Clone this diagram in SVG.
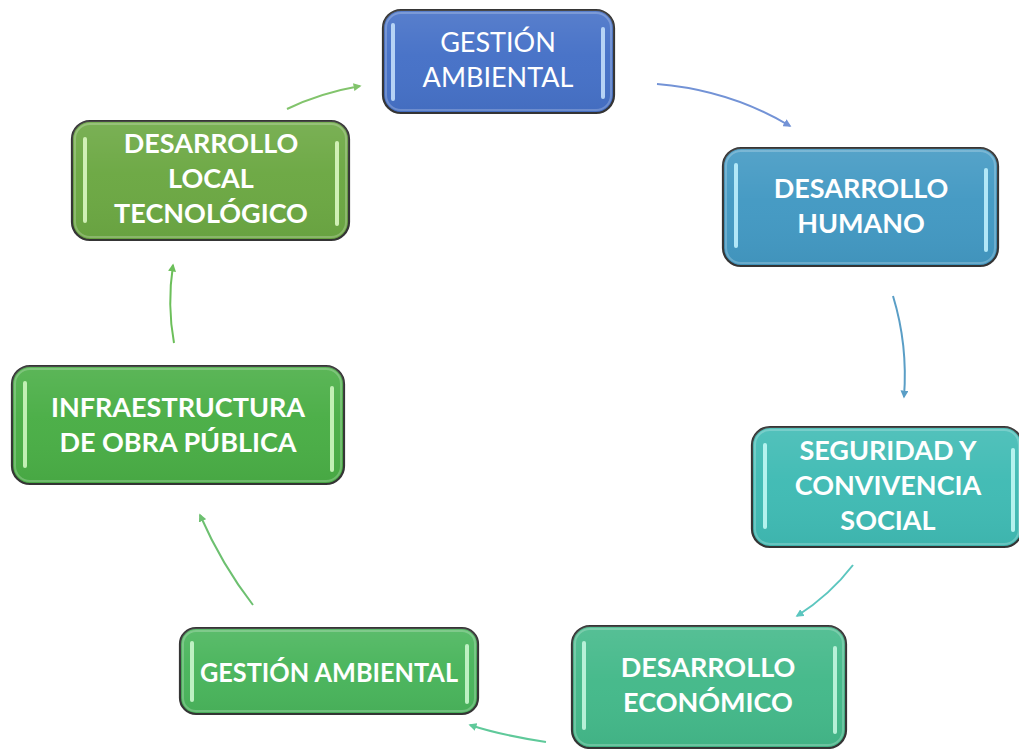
<svg xmlns="http://www.w3.org/2000/svg" width="1019" height="749" viewBox="0 0 1019 749">
<style>
.box{stroke:#353535;stroke-width:2.2}
.shine{stroke:none}
.inner{fill:none;stroke:#ffffff;stroke-opacity:0.22;stroke-width:2}
.bar{stroke-width:4;stroke-linecap:round;opacity:0.95}
.t{font-family:Lato,"Open Sans",sans-serif;font-size:27px;fill:#ffffff;text-anchor:middle}
.b{font-weight:bold}
.c{fill:none;stroke-width:2}
</style>
<defs>
<linearGradient id="sh" x1="0" y1="0" x2="0" y2="1">
<stop offset="0" stop-color="#ffffff" stop-opacity="0.10"/>
<stop offset="0.45" stop-color="#ffffff" stop-opacity="0.02"/>
<stop offset="1" stop-color="#000000" stop-opacity="0.04"/>
</linearGradient>
<marker id="m1" viewBox="0 0 10 10" refX="8" refY="5" markerWidth="4" markerHeight="4" orient="auto"><path d="M0,0 L10,5 L0,10 z" fill="#82c46c"/></marker>
<marker id="m2" viewBox="0 0 10 10" refX="8" refY="5" markerWidth="4" markerHeight="4" orient="auto"><path d="M0,0 L10,5 L0,10 z" fill="#7393d6"/></marker>
<marker id="m3" viewBox="0 0 10 10" refX="8" refY="5" markerWidth="4" markerHeight="4" orient="auto"><path d="M0,0 L10,5 L0,10 z" fill="#5a9ec6"/></marker>
<marker id="m4" viewBox="0 0 10 10" refX="8" refY="5" markerWidth="4" markerHeight="4" orient="auto"><path d="M0,0 L10,5 L0,10 z" fill="#5cc6bf"/></marker>
<marker id="m5" viewBox="0 0 10 10" refX="8" refY="5" markerWidth="4" markerHeight="4" orient="auto"><path d="M0,0 L10,5 L0,10 z" fill="#5fc99a"/></marker>
<marker id="m6" viewBox="0 0 10 10" refX="8" refY="5" markerWidth="4" markerHeight="4" orient="auto"><path d="M0,0 L10,5 L0,10 z" fill="#6dc070"/></marker>
<marker id="m7" viewBox="0 0 10 10" refX="8" refY="5" markerWidth="4" markerHeight="4" orient="auto"><path d="M0,0 L10,5 L0,10 z" fill="#6cbf5a"/></marker>
</defs>
<rect width="1019" height="749" fill="#ffffff"/>

<g id="connectors">
<path class="c" d="M287,109 Q320,93 360,86" stroke="#82c46c" marker-end="url(#m1)"/>
<path class="c" d="M657,84 Q730,90 790,126" stroke="#7393d6" marker-end="url(#m2)"/>
<path class="c" d="M893,296 Q908,345 904,397" stroke="#5a9ec6" marker-end="url(#m3)"/>
<path class="c" d="M853,565 Q830,595 797,616" stroke="#5cc6bf" marker-end="url(#m4)"/>
<path class="c" d="M546,742 Q500,735 470,725" stroke="#5fc99a" marker-end="url(#m5)"/>
<path class="c" d="M253,605 Q222,565 200,515" stroke="#6dc070" marker-end="url(#m6)"/>
<path class="c" d="M174,343 Q167,305 173,265" stroke="#6cbf5a" marker-end="url(#m7)"/>
</g>

<g id="n1">
<rect class="box" x="383" y="10" width="231" height="103" rx="18" fill="#4671c7"/>
<rect class="shine" x="383" y="10" width="231" height="103" rx="18" fill="url(#sh)"/>
<rect class="inner" x="386" y="13" width="225" height="97" rx="15"/>
<line class="bar" x1="393" y1="25" x2="393" y2="99" stroke="#bcd8f8"/>
<line class="bar" x1="603" y1="29" x2="603" y2="97" stroke="#bcd8f8"/>
<text class="t" x="498" y="52">GESTIÓN</text>
<text class="t" x="498" y="87">AMBIENTAL</text>
</g>

<g id="n2">
<rect class="box" x="723" y="148" width="275" height="118" rx="18" fill="#4399c3"/>
<rect class="shine" x="723" y="148" width="275" height="118" rx="18" fill="url(#sh)"/>
<rect class="inner" x="726" y="151" width="269" height="112" rx="15"/>
<line class="bar" x1="736" y1="165" x2="736" y2="246" stroke="#b8ecfb"/>
<line class="bar" x1="986" y1="170" x2="986" y2="250" stroke="#b8ecfb"/>
<text class="t b" x="861" y="198">DESARROLLO</text>
<text class="t b" x="861" y="233">HUMANO</text>
</g>

<g id="n3">
<rect class="box" x="752" y="427" width="270" height="120" rx="18" fill="#40bbb4"/>
<rect class="shine" x="752" y="427" width="270" height="120" rx="18" fill="url(#sh)"/>
<rect class="inner" x="755" y="430" width="264" height="114" rx="15"/>
<line class="bar" x1="765" y1="445" x2="765" y2="527" stroke="#bbf6f2"/>
<line class="bar" x1="1013" y1="450" x2="1013" y2="530" stroke="#bbf6f2"/>
<text class="t b" x="888" y="460">SEGURIDAD Y</text>
<text class="t b" x="888" y="495">CONVIVENCIA</text>
<text class="t b" x="888" y="530">SOCIAL</text>
</g>

<g id="n4">
<rect class="box" x="572" y="626" width="274" height="122" rx="18" fill="#44b98a"/>
<rect class="shine" x="572" y="626" width="274" height="122" rx="18" fill="url(#sh)"/>
<rect class="inner" x="575" y="629" width="268" height="116" rx="15"/>
<line class="bar" x1="584" y1="643" x2="584" y2="728" stroke="#bdf4dc"/>
<line class="bar" x1="835" y1="648" x2="835" y2="732" stroke="#bdf4dc"/>
<text class="t b" x="708" y="677">DESARROLLO</text>
<text class="t b" x="708" y="712">ECONÓMICO</text>
</g>

<g id="n5">
<rect class="box" x="180" y="628" width="298" height="86" rx="16" fill="#4ab55c"/>
<rect class="shine" x="180" y="628" width="298" height="86" rx="16" fill="url(#sh)"/>
<rect class="inner" x="183" y="631" width="292" height="80" rx="13"/>
<line class="bar" x1="192" y1="643" x2="192" y2="700" stroke="#c4f4c8"/>
<line class="bar" x1="467" y1="646" x2="467" y2="702" stroke="#c4f4c8"/>
<text class="t b" x="329" y="682" textLength="258" lengthAdjust="spacingAndGlyphs">GESTIÓN AMBIENTAL</text>
</g>

<g id="n6">
<rect class="box" x="12" y="366" width="332" height="118" rx="18" fill="#4aae46"/>
<rect class="shine" x="12" y="366" width="332" height="118" rx="18" fill="url(#sh)"/>
<rect class="inner" x="15" y="369" width="326" height="112" rx="15"/>
<line class="bar" x1="25" y1="383" x2="25" y2="466" stroke="#c8f4ba"/>
<line class="bar" x1="332" y1="388" x2="332" y2="470" stroke="#c8f4ba"/>
<text class="t b" x="178" y="417">INFRAESTRUCTURA</text>
<text class="t b" x="178" y="452">DE OBRA PÚBLICA</text>
</g>

<g id="n7">
<rect class="box" x="72" y="121" width="277" height="119" rx="18" fill="#6ca843"/>
<rect class="shine" x="72" y="121" width="277" height="119" rx="18" fill="url(#sh)"/>
<rect class="inner" x="75" y="124" width="271" height="113" rx="15"/>
<line class="bar" x1="85" y1="139" x2="85" y2="221" stroke="#d6f4bc"/>
<line class="bar" x1="337" y1="143" x2="337" y2="224" stroke="#d6f4bc"/>
<text class="t b" x="211" y="153">DESARROLLO</text>
<text class="t b" x="211" y="188">LOCAL</text>
<text class="t b" x="211" y="223">TECNOLÓGICO</text>
</g>
</svg>
